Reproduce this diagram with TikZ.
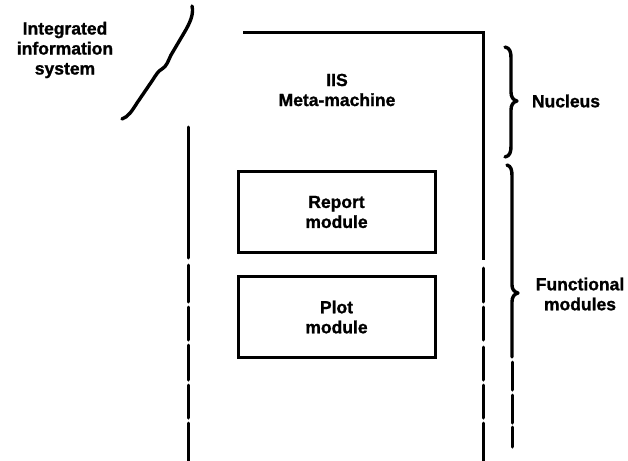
\documentclass[tikz,border=0pt]{standalone}
\usepackage{fontspec}
\setmainfont{Liberation Sans}[BoldFeatures={FakeBold=1.2}]
\begin{document}
\begin{tikzpicture}[x=1pt,y=-1pt]
\tikzset{
  lbl/.style={font=\bfseries\fontsize{17.5}{20}\selectfont, align=center, inner sep=0pt},
  modbox/.style={lbl, draw, line width=3pt, minimum width=197pt, minimum height=81pt},
  wall/.style={line width=3pt, line cap=round},
  bracestroke/.style={line width=3.4pt, line cap=round, line join=round}
}
\useasboundingbox (0,0) rectangle (628,460);

% texts
\node[lbl] (integ) at (65,50) {Integrated\\information\\system};
\node[lbl] (iis) at (337,90) {IIS\\Meta-machine};
\node[lbl] (nucleus) at (566,101) {Nucleus};
\node[lbl] (func) at (580,294) {Functional\\modules};

% module boxes
\node[modbox] (report) at (336.5,212) {Report\\module};
\node[modbox] (plot) at (336.5,317) {Plot\\module};

% outer frame
\coordinate (tl) at (243,33);
\coordinate (tr) at (483,33);
\coordinate (rs) at (483,260);
\coordinate (ls) at (188,127);
\coordinate (le) at (188,258);
\draw[wall, line cap=butt] (tl) -- (tr) -- (rs);
\draw[wall] (ls) -- (le);
\foreach \a/\b in {265/302,307/340,345/380,385/418,423/462}
  \draw[wall] (188,\a) -- (188,\b);
\foreach \a/\b in {268/302,307/340,347/380,385/418,423/462}
  \draw[wall] (483,\a) -- (483,\b);

% nucleus brace
\draw[bracestroke] (505,47) .. controls (510,48) and (511,52) .. (511,58) -- (511,92)
  .. controls (511,97) and (513,100) .. (517,101)
  .. controls (513,102) and (511,105) .. (511,110) -- (511,146)
  .. controls (511,152) and (510,156) .. (505,157);

% functional modules brace
\draw[bracestroke] (507,165) .. controls (511,166) and (512,170) .. (512,176) -- (512,285)
  .. controls (512,289) and (514,292) .. (518,293)
  .. controls (514,294) and (512,297) .. (512,302) -- (512,357);
\foreach \a/\b in {362/390,395/423,427/447}
  \draw[wall] (512,\a) -- (512,\b);

% integrated information system brace
\draw[bracestroke] (192,6) .. controls (194,14) and (190,23) .. (184,33) -- (171,55)
  .. controls (168,61) and (167,66) .. (162,69)
  .. controls (158,71) and (156,75) .. (152,81) -- (137,103)
  .. controls (132,111) and (128,117) .. (122,119);
\end{tikzpicture}
\end{document}
